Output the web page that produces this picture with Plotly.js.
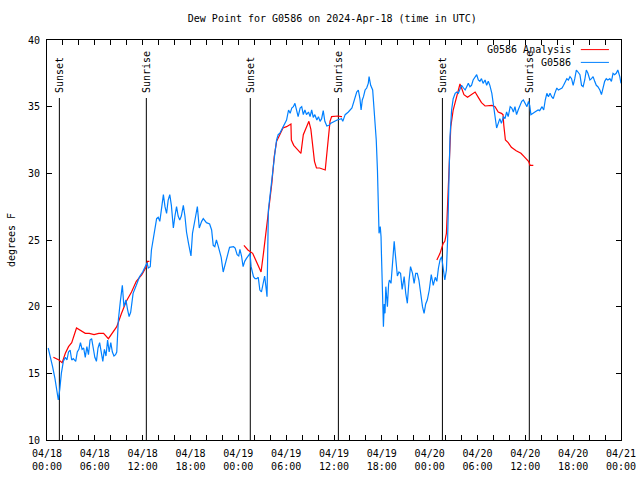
<!DOCTYPE html>
<html>
<head>
<meta charset="utf-8">
<script src="https://cdn.plot.ly/plotly-3.0.1.min.js"></script>
<style>html,body{margin:0;padding:0;background:#fff;}#chart{width:640px;height:480px;}</style>
</head>
<body>
<div id="chart"></div>
<script>
// ---- data (hours since 2024-04-18 00:00 UTC, dew point in degrees F) ----
const blueHours = [0.15,0.4,0.7,1.0,1.3,1.42,1.6,1.8,2.05,2.3,2.5,2.7,2.9,3.1,3.3,3.6,3.8,4.0,4.2,4.4,4.6,4.8,5.0,5.2,5.4,5.6,5.8,6.0,6.2,6.4,6.6,6.8,7.0,7.2,7.4,7.6,7.8,8.0,8.2,8.4,8.6,8.75,8.95,9.2,9.45,9.65,9.9,10.1,10.3,10.5,10.8,11.2,11.6,12.0,12.3,12.55,12.7,12.95,13.1,13.35,13.55,13.75,13.95,14.15,14.4,14.6,14.8,15.0,15.2,15.4,15.6,15.85,16.05,16.25,16.45,16.65,16.85,17.1,17.3,17.5,17.75,17.9,18.06,18.25,18.45,18.65,18.86,19.1,19.4,19.6,20.0,20.4,20.65,20.85,21.05,21.25,21.45,21.65,21.85,22.1,22.3,22.6,22.9,23.4,23.6,23.85,24.05,24.2,24.4,24.6,24.8,25.0,25.2,25.47,25.6,25.9,26.1,26.3,26.5,26.7,26.9,27.1,27.3,27.5,27.6,27.77,27.95,28.2,28.4,28.6,28.8,29.0,29.2,29.4,29.6,29.85,30.05,30.3,30.5,30.7,30.9,31.1,31.3,31.5,31.75,31.95,32.15,32.35,32.55,32.8,33.0,33.2,33.4,33.6,33.85,34.05,34.25,34.45,34.65,34.85,35.1,35.35,35.6,36.0,36.4,36.95,37.1,37.4,37.8,38.25,38.4,38.6,38.85,39.05,39.25,39.4,39.55,39.7,39.9,40.1,40.3,40.4,40.6,40.85,41.0,41.15,41.3,41.45,41.55,41.65,41.8,41.9,41.95,42.1,42.2,42.3,42.4,42.5,42.6,42.7,42.85,42.95,43.15,43.4,43.55,43.65,43.75,43.95,44.15,44.35,44.55,44.8,45.0,45.2,45.4,45.6,45.85,46.05,46.25,46.45,46.65,46.85,47.1,47.3,47.5,47.7,47.95,48.2,48.45,48.7,48.9,49.1,49.3,49.5,49.7,49.9,50.1,50.25,50.4,50.55,50.75,50.95,51.2,51.4,51.6,51.8,52.0,52.25,52.45,52.65,52.85,53.05,53.25,53.45,53.7,53.9,54.1,54.3,54.5,54.7,54.95,55.15,55.35,55.55,55.8,56.0,56.2,56.4,56.6,56.8,57.0,57.25,57.45,57.65,57.85,58.1,58.3,58.5,58.7,58.9,59.1,59.3,59.55,59.75,59.95,60.2,60.4,60.55,60.7,60.9,61.2,61.6,61.8,62.1,62.3,62.5,62.7,62.9,63.1,63.3,63.5,63.7,63.95,64.15,64.6,64.8,65.0,65.2,65.4,65.6,65.8,66.0,66.2,66.4,66.6,66.85,67.05,67.25,67.45,67.65,67.85,68.1,68.3,68.5,68.7,68.9,69.1,69.35,69.55,69.75,69.95,70.15,70.35,70.6,70.8,71.0,71.2,71.4,71.6,71.85,72.0];
const blueDew = [16.9,16.3,15.5,14.6,13.5,13.0,13.8,15.0,15.9,16.2,16.0,16.6,16.75,16.0,16.1,15.9,16.6,16.8,17.3,16.8,16.9,16.2,17.0,16.4,17.5,17.6,16.9,16.2,15.9,16.9,17.3,16.7,15.9,16.8,16.3,17.5,16.6,17.3,16.6,16.3,16.4,16.6,19.0,20.4,21.6,20.0,20.5,19.8,19.25,19.6,21.0,21.6,22.25,22.6,23.0,23.3,22.9,23.0,24.25,25.2,25.75,26.6,26.7,26.4,27.5,28.4,27.5,27.0,28.0,28.4,27.6,25.9,26.8,27.5,26.8,26.5,26.8,27.6,26.8,25.6,24.75,24.2,23.8,25.5,26.3,26.8,27.5,25.9,26.4,26.6,26.3,26.2,25.75,24.6,24.5,25.0,24.6,24.2,23.7,22.6,23.1,23.8,24.45,24.5,24.4,23.9,23.8,24.3,23.8,23.0,23.4,23.6,23.8,24.0,23.0,22.25,22.1,22.1,22.2,21.25,21.1,21.6,22.3,21.3,20.75,27.25,28.3,29.25,30.75,31.6,32.5,32.9,33.0,33.25,33.5,33.75,34.0,34.75,34.5,34.9,35.0,35.25,34.6,34.25,34.9,35.0,34.4,34.75,34.4,34.6,34.25,34.75,34.2,34.4,34.0,34.25,33.9,34.1,34.7,33.9,33.55,33.6,33.75,33.9,34.0,34.1,33.9,34.4,34.6,34.9,35.25,35.6,36.1,36.25,35.6,34.75,35.5,35.75,36.25,36.4,36.75,37.25,36.6,36.25,35.0,33.9,32.5,30.25,27.0,25.5,26.0,25.25,24.0,20.5,18.5,20.2,19.5,21.5,20.5,20.0,21.7,22.0,21.75,24.0,24.9,24.2,23.5,22.3,22.6,22.5,21.3,22.25,21.0,20.25,21.9,23.0,22.5,21.75,22.5,22.5,22.0,21.0,20.0,19.5,20.2,20.5,21.25,22.4,21.6,22.2,21.9,22.9,23.5,23.75,23.0,22.0,22.75,25.0,29.0,32.75,34.75,35.6,36.0,36.1,36.0,36.25,36.6,36.4,36.25,36.5,36.75,36.5,36.6,37.0,37.25,37.4,37.0,36.9,37.1,36.75,37.0,36.6,36.9,36.6,36.0,35.25,34.25,33.4,33.75,34.1,33.75,34.25,34.1,34.6,34.25,35.0,34.9,34.6,35.0,34.4,34.75,35.1,35.4,35.5,35.25,35.0,35.4,35.1,34.4,34.5,34.6,34.75,34.7,35.0,34.75,35.5,36.0,35.75,36.0,35.75,35.6,36.0,36.4,36.25,36.4,36.6,36.9,37.1,37.0,37.25,37.1,36.6,37.1,37.75,37.6,37.4,36.6,36.5,37.0,37.75,37.5,37.0,37.1,37.25,36.9,36.6,36.5,36.25,35.9,36.4,36.9,37.1,37.0,37.1,36.9,37.5,37.4,37.5,37.75,37.25,36.75];

const redHours = [0.8,1.5,1.9,2.3,2.7,3.1,3.7,4.3,4.8,5.3,5.9,6.5,7.1,7.7,8.2,8.75,9.35,9.95,10.6,11.2,11.9,12.5,12.6,12.85,
  18.0,
  24.7,25.2,25.8,26.25,26.55,26.85,27.15,27.45,27.8,28.2,28.5,28.8,29.2,29.6,30.05,30.6,30.65,30.95,31.4,31.85,32.15,32.55,32.85,33.1,33.35,33.55,33.8,34.2,34.9,35.1,35.3,35.5,35.7,36.1,36.5,36.9,37.0,
  43.0,
  48.9,49.3,49.7,49.9,50.1,50.25,50.4,50.5,50.65,50.95,51.15,51.4,51.8,52.0,52.3,52.75,53.2,53.7,54.1,54.5,54.95,55.35,55.8,56.2,56.6,57.0,57.2,57.3,57.5,57.85,58.25,58.85,59.45,59.85,60.25,60.4,60.6,61.0];
const redDew = [16.2,16.0,15.8,16.5,17.0,17.3,18.4,18.2,18.0,18.0,17.9,18.0,18.0,17.6,18.0,18.5,19.5,20.4,21.1,21.9,22.4,23.05,23.4,23.4,
  null,
  24.6,24.25,24.0,23.4,23.0,22.6,24.0,25.5,27.4,29.25,31.25,32.4,32.9,33.4,33.5,33.7,32.5,32.1,31.8,31.5,32.9,33.4,33.9,33.3,31.9,30.9,30.4,30.4,30.25,31.5,32.9,33.9,34.25,34.3,34.3,34.25,34.25,
  null,
  23.5,24.0,24.75,24.9,25.5,27.75,29.75,32.0,33.5,34.75,35.25,35.75,36.7,36.4,35.9,35.7,35.9,36.1,35.7,35.3,35.05,35.1,35.1,35.0,34.6,34.5,34.4,33.6,32.5,32.3,31.95,31.7,31.5,31.25,31.0,30.9,30.6,30.6];

const eventHours = [1.55, 12.46, 25.5, 36.55, 49.6, 60.5];
const eventLabels = ['Sunset','Sunrise','Sunset','Sunrise','Sunset','Sunrise'];
const eventTop = 35.65;

const tickHours = [0,6,12,18,24,30,36,42,48,54,60,66,72];
const tickLabels = ['04/18<br>00:00','04/18<br>06:00','04/18<br>12:00','04/18<br>18:00','04/19<br>00:00','04/19<br>06:00','04/19<br>12:00','04/19<br>18:00','04/20<br>00:00','04/20<br>06:00','04/20<br>12:00','04/20<br>18:00','04/21<br>00:00'];
const seriesNames = ['G0586 Analysis', 'G0586'];

// ---- helpers ----
const T0 = Date.UTC(2024, 3, 18);
function hToDate(h) {
  const d = new Date(T0 + Math.round(h * 3600000));
  return d.toISOString().slice(0, 19).replace('T', ' ');
}

const FONT = 'DejaVu Sans Mono, monospace';
const RED = '#ff0000', BLUE = '#0080ff';

// vertical event lines as one trace
const evX = [], evY = [];
eventHours.forEach(h => { evX.push(hToDate(h), hToDate(h), null); evY.push(10, eventTop, null); });

const traces = [
  {x: evX, y: evY, type: 'scatter', mode: 'lines', line: {color: '#000', width: 1}, hoverinfo: 'skip'},
  {x: redHours.map(hToDate), y: redDew, type: 'scatter', mode: 'lines', name: seriesNames[0], line: {color: RED, width: 1.2}},
  {x: blueHours.map(hToDate), y: blueDew, type: 'scatter', mode: 'lines', name: seriesNames[1], line: {color: BLUE, width: 1.2}}
];

// every 2 hours a tick, labels at every 6 hours
const tv = [], tt = [];
for (let h = 0; h <= 72; h += 2) {
  tv.push(hToDate(h));
  const i = tickHours.indexOf(h);
  tt.push(i >= 0 ? tickLabels[i] : '');
}

const annotations = eventHours.map((h, i) => ({
  x: hToDate(h), y: eventTop + 0.25, xref: 'x', yref: 'y',
  text: eventLabels[i], textangle: -90, showarrow: false,
  xanchor: 'center', yanchor: 'bottom', font: {family: FONT, size: 10, color: '#000'}
}));
// legend (gnuplot style: text right-aligned, sample line to the right)
annotations.push({x: 0.916, y: 0.976, xref: 'paper', yref: 'paper', text: seriesNames[0], showarrow: false, xanchor: 'right', yanchor: 'middle', font: {family: FONT, size: 10, color: '#000'}});
annotations.push({x: 0.916, y: 0.944, xref: 'paper', yref: 'paper', text: seriesNames[1], showarrow: false, xanchor: 'right', yanchor: 'middle', font: {family: FONT, size: 10, color: '#000'}});

const shapes = [
  {type: 'line', xref: 'paper', yref: 'paper', x0: 0.930, x1: 0.979, y0: 0.976, y1: 0.976, line: {color: RED, width: 1}},
  {type: 'line', xref: 'paper', yref: 'paper', x0: 0.930, x1: 0.979, y0: 0.944, y1: 0.944, line: {color: BLUE, width: 1}}
];

const layout = {
  width: 640, height: 480,
  margin: {l: 47, r: 19, t: 40, b: 40, pad: 0},
  paper_bgcolor: '#fff', plot_bgcolor: '#fff',
  showlegend: false,
  font: {family: FONT, size: 10, color: '#000'},
  title: {text: 'Dew Point for G0586 on 2024-Apr-18 (time in UTC)', xref: 'paper', x: 0.497, xanchor: 'center', y: 0.962, yanchor: 'middle', font: {family: FONT, size: 10, color: '#000'}},
  xaxis: {
    type: 'date', range: [hToDate(0), hToDate(72)],
    tickmode: 'array', tickvals: tv, ticktext: tt,
    ticks: 'inside', ticklen: 5, tickcolor: '#000', tickwidth: 1,
    ticklabelstandoff: 4,
    showline: true, linecolor: '#000', linewidth: 1, mirror: 'allticks',
    showgrid: false, zeroline: false, tickfont: {family: FONT, size: 10, color: '#000'}
  },
  yaxis: {
    range: [10, 40], tickmode: 'linear', tick0: 10, dtick: 5,
    ticks: 'inside', ticklen: 5, tickcolor: '#000', tickwidth: 1,
    ticklabelstandoff: 4,
    showline: true, linecolor: '#000', linewidth: 1, mirror: 'allticks',
    showgrid: false, zeroline: false, tickfont: {family: FONT, size: 10, color: '#000'},
    title: {text: 'degrees F', standoff: 10, font: {family: FONT, size: 10, color: '#000'}}
  },
  annotations: annotations,
  shapes: shapes
};

Plotly.newPlot('chart', traces, layout, {displayModeBar: false, staticPlot: true});
</script>
</body>
</html>
